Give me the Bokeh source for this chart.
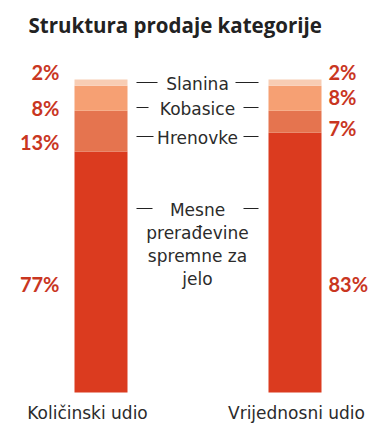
from bokeh.plotting import figure
from bokeh.models import Range1d, ColumnDataSource
from bokeh.core.properties import value
from bokeh.embed import file_html
from bokeh.resources import INLINE
import numpy as np

title = "Struktura prodaje kategorije"
categories = ["Količinski udio", "Vrijednosni udio"]
segments = ["Mesne prerađevine spremne za jelo", "Hrenovke", "Kobasice", "Slanina"]
kolicinski = [77, 13, 8, 2]
vrijednosni = [83, 7, 8, 2]
legend_lines = [["Mesne", "prerađevine", "spremne za", "jelo"], ["Hrenovke"], ["Kobasice"], ["Slanina"]]
colors = ["#db3b1f", "#e5744f", "#f6a073", "#f8cdb4"]

W, H = 376, 425
OFF = 0      # page offset of the figure
PXU = 3.13   # px per percent
XU = 194.0   # px per category step

def dx(px):  # page px -> data x
    return (px - 100.5) / XU

def dy(py):  # page px -> data y
    return (392 - py) / PXU

p = figure(width=W, height=H, output_backend="svg", toolbar_location=None,
           x_range=Range1d(dx(OFF), dx(OFF + W)), y_range=Range1d(dy(OFF + H), dy(OFF)),
           min_border=0, outline_line_color=None)
p.axis.visible = False
p.grid.visible = False
p.background_fill_color = "white"
p.border_fill_color = "white"

series = [kolicinski, vrijednosni]
bar_w = 53 / XU
for ci, vals in enumerate(series):
    bottoms = np.concatenate([[0], np.cumsum(vals)[:-1]])
    tops = np.cumsum(vals)
    src = ColumnDataSource(dict(x=[ci] * len(vals), bottom=bottoms, top=tops, color=colors))
    p.vbar(x="x", width=bar_w, bottom="bottom", top="top", fill_color="color",
           line_color=None, source=src)

# percentage labels (page y positions of label centers, hand-placed)
label_font = value("Lato")
left_y = [283, 141, 107, 71]
right_y = [283, 127, 96, 71]
p.text(x=[dx(59)] * 4, y=[dy(v) for v in left_y], text=[f"{v}%" for v in kolicinski],
       text_align="right", text_baseline="middle", text_font=label_font,
       text_font_style="bold", text_font_size="20px", text_color="#c9361f")
p.text(x=[dx(328)] * 4, y=[dy(v) for v in right_y], text=[f"{v}%" for v in vrijednosni],
       text_align="left", text_baseline="middle", text_font=label_font,
       text_font_style="bold", text_font_size="20px", text_color="#c9361f")

# middle legend labels
mid_x = dx(197)
legend_y = [209, 137, 108, 83]
line_h = 23
txt_font = value("DejaVu Sans")
for li, lines in enumerate(legend_lines):
    ys = [dy(legend_y[li] + k * line_h) for k in range(len(lines))]
    p.text(x=[mid_x] * len(lines), y=ys, text=lines, text_align="center",
           text_baseline="middle", text_font=txt_font, text_font_size="17px",
           text_color="#2b2b2b")
gaps = [(152, 243), (153, 243), (148, 243), (157, 235)]
for li in range(len(legend_lines)):
    yy = dy(legend_y[li] - 1)
    p.segment(x0=[dx(136), dx(gaps[li][1])], x1=[dx(gaps[li][0]), dx(258)],
              y0=[yy, yy], y1=[yy, yy], line_color="#222222", line_width=1.2)

# category labels
p.text(x=[dx(87), dx(296)], y=[dy(412)] * 2, text=categories, text_align="center",
       text_baseline="middle", text_font=txt_font, text_font_size="17px",
       text_color="#2b2b2b")

# title
p.text(x=[dx(28)], y=[dy(24)], text=[title], text_align="left", text_baseline="middle",
       text_font=value("Open Sans"), text_font_style="bold", text_font_size="20.5px",
       text_color="#222222")

open("out.html", "w").write(file_html(p, INLINE))
